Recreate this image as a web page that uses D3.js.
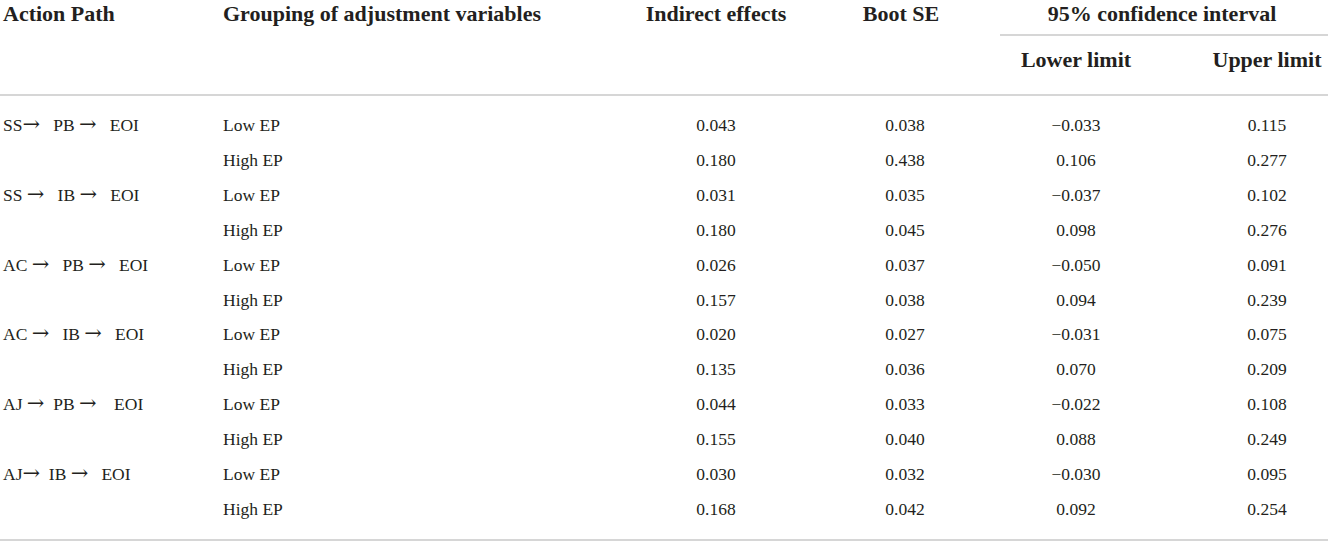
<!DOCTYPE html>
<html>
<head>
<meta charset="utf-8">
<script src="https://cdn.jsdelivr.net/npm/d3@7"></script>
<style>
  html, body { margin: 0; padding: 0; background: #fff; }
  svg text { font-family: "Liberation Serif", "DejaVu Serif", serif; fill: #231f20; white-space: pre; }
  svg tspan.arrow { font-family: "DejaVu Serif", serif; }
</style>
</head>
<body>
<svg id="chart" width="1331" height="544"></svg>
<script>
// ---- data ----
const actionPaths = ["SS\u2192   PB \u2192   EOI", "", "SS \u2192   IB \u2192   EOI", "", "AC \u2192   PB \u2192   EOI", "",
                     "AC \u2192   IB \u2192   EOI", "", "AJ \u2192  PB \u2192    EOI", "", "AJ\u2192  IB \u2192   EOI", ""];
const groups = ["Low EP", "High EP", "Low EP", "High EP", "Low EP", "High EP",
                "Low EP", "High EP", "Low EP", "High EP", "Low EP", "High EP"];
const indirectEffects = ["0.043", "0.180", "0.031", "0.180", "0.026", "0.157", "0.020", "0.135", "0.044", "0.155", "0.030", "0.168"];
const bootSE = ["0.038", "0.438", "0.035", "0.045", "0.037", "0.038", "0.027", "0.036", "0.033", "0.040", "0.032", "0.042"];
const lowerLimit = ["\u22120.033", "0.106", "\u22120.037", "0.098", "\u22120.050", "0.094", "\u22120.031", "0.070", "\u22120.022", "0.088", "\u22120.030", "0.092"];
const upperLimit = ["0.115", "0.277", "0.102", "0.276", "0.091", "0.239", "0.075", "0.209", "0.108", "0.249", "0.095", "0.254"];
const headerTop = ["Action Path", "Grouping of adjustment variables", "Indirect effects", "Boot SE", "95% confidence interval"];
const headerSub = ["Lower limit", "Upper limit"];

// ---- layout ----
const svg = d3.select("#chart");
const rowIdx = d3.range(groups.length);
const y = d3.scalePoint().domain(rowIdx).range([131, 515]);
const lineColor = "#c8c8c8";
const bodySize = 17.5, headSize = 22;

const cols = [
  {x: 3, anchor: "start", data: actionPaths, arrows: true},
  {x: 223, anchor: "start", data: groups},
  {x: 716, anchor: "middle", data: indirectEffects},
  {x: 905, anchor: "middle", data: bootSE},
  {x: 1076, anchor: "middle", data: lowerLimit},
  {x: 1267, anchor: "middle", data: upperLimit}
];

const h1 = [
  {t: headerTop[0], x: 3, a: "start"},
  {t: headerTop[1], x: 223, a: "start"},
  {t: headerTop[2], x: 716, a: "middle"},
  {t: headerTop[3], x: 901, a: "middle"},
  {t: headerTop[4], x: 1162, a: "middle"}
];
svg.selectAll("text.h1").data(h1).join("text")
  .attr("class", "h1")
  .attr("x", d => d.x).attr("y", 21)
  .attr("text-anchor", d => d.a)
  .attr("font-size", headSize).attr("font-weight", "bold")
  .text(d => d.t);

svg.append("line").attr("x1", 1000).attr("x2", 1328).attr("y1", 35).attr("y2", 35)
  .attr("stroke", lineColor).attr("stroke-width", 1.5);

svg.selectAll("text.h2").data([{t: headerSub[0], x: 1076}, {t: headerSub[1], x: 1267}]).join("text")
  .attr("class", "h2")
  .attr("x", d => d.x).attr("y", 67)
  .attr("text-anchor", "middle")
  .attr("font-size", headSize).attr("font-weight", "bold")
  .text(d => d.t);

svg.append("line").attr("x1", 0).attr("x2", 1328).attr("y1", 95).attr("y2", 95)
  .attr("stroke", lineColor).attr("stroke-width", 1.5);
svg.append("line").attr("x1", 0).attr("x2", 1328).attr("y1", 540).attr("y2", 540)
  .attr("stroke", lineColor).attr("stroke-width", 1.5);

cols.forEach(c => {
  const t = svg.append("g").selectAll("text").data(rowIdx).join("text")
    .attr("x", c.x).attr("y", i => y(i))
    .attr("text-anchor", c.anchor)
    .attr("font-size", bodySize);
  if (c.arrows) {
    t.each(function(i) {
      const sel = d3.select(this);
      const parts = c.data[i].split("\u2192");
      parts.forEach((p, k) => {
        if (k > 0) sel.append("tspan").attr("class", "arrow").attr("font-size", 21).text("\u2192");
        if (p.length) sel.append("tspan").text(p);
      });
    });
  } else {
    t.text(i => c.data[i]);
  }
});
</script>
</body>
</html>
